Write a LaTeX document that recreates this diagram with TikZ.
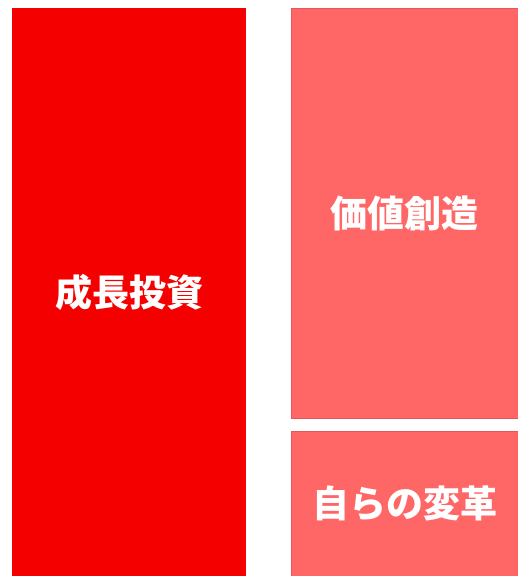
\documentclass[tikz,border=0pt]{standalone}
\usepackage{fontspec}
\usetikzlibrary{positioning}
\newfontfamily\jpfont{Noto Sans CJK JP}
\definecolor{tiefrot}{RGB}{245,0,0}
\definecolor{hellrot}{RGB}{255,102,102}
\definecolor{randrot}{RGB}{232,86,86}

\begin{document}
\begin{tikzpicture}[x=1pt, y=-1pt, inner sep=0pt, outer sep=0pt,
    block/.style={rectangle, text=white, font=\jpfont\bfseries\fontsize{37}{40}\selectfont},
    haupt/.style={block, fill=tiefrot},
    neben/.style={block, fill=hellrot, draw=randrot, line width=0.8pt}]
            \useasboundingbox (0,0) rectangle (518,576);
            % Blöcke
            \node[haupt, minimum width=234pt, minimum height=568pt] (wachstum) at (129,292) {成長投資};
            \node[neben, minimum width=227pt, minimum height=410pt] (wert) at (404.5,213) {価値創造};
            \node[neben, minimum width=227pt, minimum height=145pt] (wandel) at (404.5,503.5) {自らの変革};
        \end{tikzpicture}
\end{document}
